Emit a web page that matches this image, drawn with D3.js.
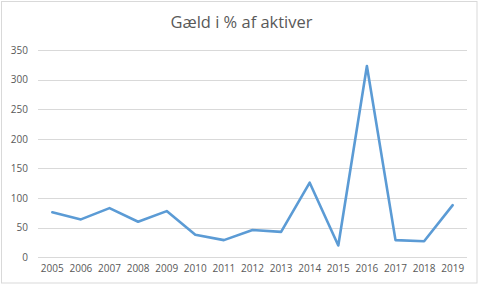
<!DOCTYPE html>
<html><head><meta charset="utf-8">
<script src="https://cdn.jsdelivr.net/npm/d3@7"></script>
<style>html,body{margin:0;padding:0;background:#fff;}svg{display:block;}</style>
</head><body>
<svg id="c" width="481" height="289"></svg>
<script>
const title = "Gæld i % af aktiver";
const years = ["2005","2006","2007","2008","2009","2010","2011","2012","2013","2014","2015","2016","2017","2018","2019"];
const values = [76, 64, 83, 60, 78, 38, 29, 46, 43, 126, 20, 323, 29, 27, 88];
const yTicks = [0, 50, 100, 150, 200, 250, 300, 350];

const svg = d3.select("#c");
const font = "'Open Sans', sans-serif";
const textColor = "#595959";

svg.append("rect").attr("x",1.5).attr("y",1.5).attr("width",475.5).attr("height",281.5)
  .attr("fill","#fff").attr("stroke","#d9d9d9").attr("stroke-width",1);

const x = d3.scaleBand().domain(years).range([38, 467]);
const y = d3.scaleLinear().domain([0, 350]).range([257.3, 50]);

// gridlines
const grid = svg.append("g");
grid.selectAll("line").data(yTicks).join("line")
  .attr("x1", 38).attr("x2", 467)
  .attr("y1", d => Math.round(y(d)) + 0.5).attr("y2", d => Math.round(y(d)) + 0.5)
  .attr("stroke", "#d9d9d9").attr("stroke-width", 1);

// y axis labels
const yAxis = d3.axisLeft(y).tickValues(yTicks).tickSize(0).tickPadding(0);
const gy = svg.append("g").attr("transform","translate(28,0)").call(yAxis);
gy.select(".domain").remove();
gy.selectAll("text").attr("font-family", font).attr("font-size", 10).attr("fill", textColor);

// x axis labels
const xAxis = d3.axisBottom(x).tickSize(0).tickPadding(0);
const gx = svg.append("g").attr("transform","translate(0,265)").call(xAxis);
gx.select(".domain").remove();
gx.selectAll("text").attr("font-family", font).attr("font-size", 10).attr("fill", textColor);

// line
const line = d3.line().x((d,i) => x(years[i]) + x.bandwidth()/2).y(d => y(d));
svg.append("path").datum(values).attr("d", line)
  .attr("fill","none").attr("stroke","#5b9bd5").attr("stroke-width",2.6)
  .attr("stroke-linejoin","round").attr("stroke-linecap","round");

// title
const t = svg.append("text").attr("x", 241.5).attr("y", 28).attr("text-anchor","middle")
  .attr("font-family", font).attr("font-size", 15).attr("fill", textColor).text(title);
const w = t.node().getComputedTextLength();
t.attr("font-size", 15 * 142 / w);
</script>
</body></html>
